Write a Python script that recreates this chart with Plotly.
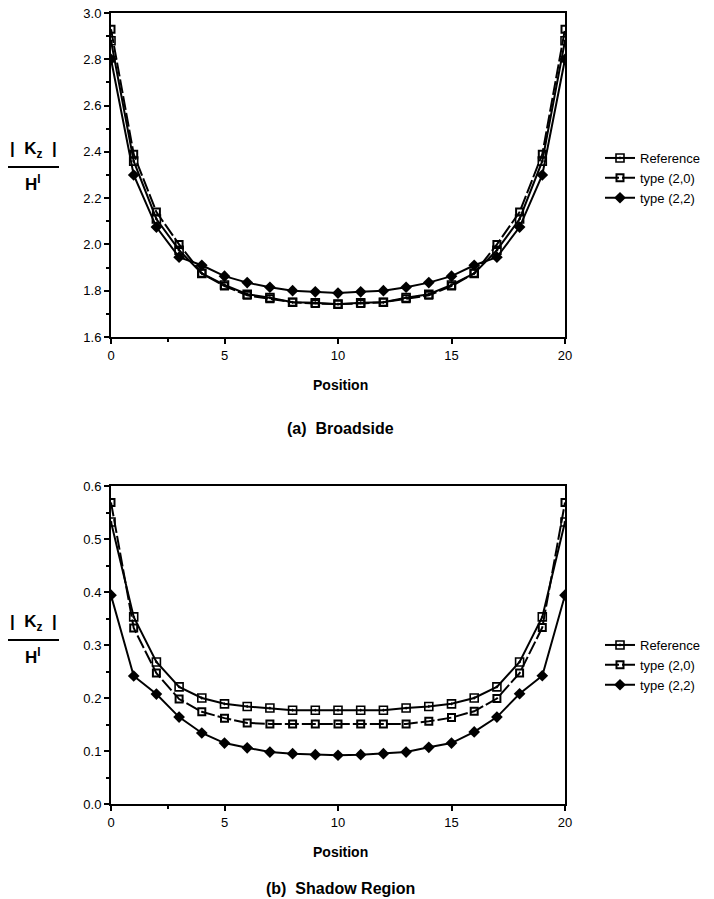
import plotly.graph_objects as go

# Positions along the surface
position = list(range(21))

# (a) Broadside: normalised surface current |Kz| / H^I
broad_reference = [2.88, 2.36, 2.11, 1.975, 1.875, 1.825, 1.785, 1.77, 1.75, 1.748, 1.742,
                   1.748, 1.75, 1.77, 1.785, 1.825, 1.875, 1.975, 2.11, 2.36, 2.88]
broad_type20 = [2.93, 2.39, 2.14, 2.0, 1.875, 1.82, 1.78, 1.765, 1.75, 1.745, 1.742,
                1.745, 1.75, 1.765, 1.78, 1.82, 1.875, 2.0, 2.14, 2.39, 2.93]
broad_type22 = [2.80, 2.30, 2.075, 1.945, 1.91, 1.863, 1.835, 1.815, 1.80, 1.795, 1.79,
                1.795, 1.80, 1.815, 1.835, 1.863, 1.91, 1.945, 2.075, 2.30, 2.80]

# (b) Shadow region
shadow_reference = [0.532, 0.353, 0.268, 0.221, 0.200, 0.189, 0.184, 0.181, 0.177, 0.177, 0.177,
                    0.177, 0.177, 0.181, 0.184, 0.189, 0.200, 0.221, 0.268, 0.353, 0.532]
shadow_type20 = [0.569, 0.332, 0.247, 0.198, 0.174, 0.162, 0.153, 0.151, 0.151, 0.151, 0.151,
                 0.151, 0.151, 0.151, 0.156, 0.163, 0.175, 0.199, 0.247, 0.333, 0.569]
shadow_type22 = [0.394, 0.2415, 0.2075, 0.164, 0.134, 0.115, 0.106, 0.098, 0.095, 0.093, 0.092,
                 0.093, 0.095, 0.098, 0.107, 0.115, 0.136, 0.164, 0.208, 0.242, 0.394]

series_names = ["Reference", "type (2,0)", "type (2,2)"]
x_ticks = [0, 5, 10, 15, 20]

W, H = 714, 899
L, R, T, B = 111, 565, 13, 804
FONT = "Liberation Sans, Arial, Helvetica, sans-serif"


def px_x(px):
    return (px - L) / (R - L)


def px_y(py):
    return (B - py) / (B - T)


styles = [
    dict(marker=dict(symbol="square-open-dot", size=8, color="black", line=dict(width=1.6)),
         line=dict(color="black", width=2)),
    dict(marker=dict(symbol="square-open", size=7, color="black", line=dict(width=2)),
         line=dict(color="black", width=2, dash="14px,3px")),
    dict(marker=dict(symbol="diamond", size=9, color="black"),
         line=dict(color="black", width=2)),
]

fig = go.Figure()

panels = [
    (("x", "y", "legend"), [broad_reference, broad_type20, broad_type22]),
    (("x2", "y2", "legend2"), [shadow_reference, shadow_type20, shadow_type22]),
]
for (xa, ya, lg), data in panels:
    for name, vals, st in zip(series_names, data, styles):
        fig.add_trace(go.Scatter(
            x=position, y=vals, name=name, mode="lines+markers",
            xaxis=xa, yaxis=ya, legend=lg, **st,
        ))

top_lo = px_y(337)
bot_hi = px_y(486)

axis_common = dict(
    showgrid=False, zeroline=False, showline=True, linecolor="black", linewidth=2,
    mirror=True, ticks="outside", ticklen=5, tickwidth=2, tickcolor="black",
    tickfont=dict(family=FONT, size=13, color="black"),
)

legend_style = dict(xanchor="left", yanchor="top", xref="container", yref="container",
                    font=dict(family=FONT, size=13, color="black"), bgcolor="rgba(0,0,0,0)",
                    tracegroupgap=0, itemwidth=30)

fig.update_layout(
    width=W, height=H, autosize=False,
    margin=dict(l=L, r=W - R, t=T, b=H - B, autoexpand=False),
    paper_bgcolor="white", plot_bgcolor="white",
    font=dict(family=FONT, color="black"),
    xaxis=dict(domain=[0, 1], anchor="y", range=[0, 20], tickvals=x_ticks,
               minor=dict(tickvals=[2.5], ticks="outside", ticklen=3, tickwidth=2, tickcolor="black"),
               **axis_common),
    yaxis=dict(domain=[top_lo, 1], anchor="x", range=[1.6, 3.0], dtick=0.2, tickformat=".1f",
               minor=dict(dtick=0.1, ticks="outside", ticklen=3, tickwidth=1.5, tickcolor="black"),
               **axis_common),
    xaxis2=dict(domain=[0, 1], anchor="y2", range=[0, 20], tickvals=x_ticks,
                minor=dict(tickvals=[2.5], ticks="outside", ticklen=3, tickwidth=2, tickcolor="black"),
                **axis_common),
    yaxis2=dict(domain=[0, bot_hi], anchor="x2", range=[0, 0.6], dtick=0.1, tickformat=".1f",
                minor=dict(dtick=0.05, ticks="outside", ticklen=3, tickwidth=1.5, tickcolor="black"),
                **axis_common),
    legend=dict(x=600 / W, y=1 - 143 / H, **legend_style),
    legend2=dict(x=600 / W, y=1 - 630 / H, **legend_style),
)

annotations = []
shapes = []
# x-axis titles and panel captions
for ypos, text, size in [(385, "<b>Position</b>", 14), (428, "<b>(a)  Broadside</b>", 16),
                         (852, "<b>Position</b>", 14), (888, "<b>(b)  Shadow Region</b>", 16)]:
    annotations.append(dict(x=px_x(340), y=px_y(ypos), xref="paper", yref="paper",
                            text=text, showarrow=False, xanchor="center", yanchor="middle",
                            font=dict(family=FONT, size=size, color="black")))

# fraction-style y-axis labels |Kz| / H^I
for top_y in (150, 623):
    annotations.append(dict(x=px_x(33), y=px_y(top_y), xref="paper", yref="paper",
                            text="<b>|  K<sub>z</sub>  |</b>", showarrow=False,
                            xanchor="center", yanchor="middle",
                            font=dict(family=FONT, size=17, color="black")))
    annotations.append(dict(x=px_x(33), y=px_y(top_y + 33), xref="paper", yref="paper",
                            text="<b>H<sup>I</sup></b>", showarrow=False,
                            xanchor="center", yanchor="middle",
                            font=dict(family=FONT, size=17, color="black")))
    shapes.append(dict(type="line", xref="paper", yref="paper",
                       x0=px_x(8), x1=px_x(59), y0=px_y(top_y + 17), y1=px_y(top_y + 17),
                       line=dict(color="black", width=2)))

fig.update_layout(annotations=annotations, shapes=shapes)

fig.write_html("out.html")
